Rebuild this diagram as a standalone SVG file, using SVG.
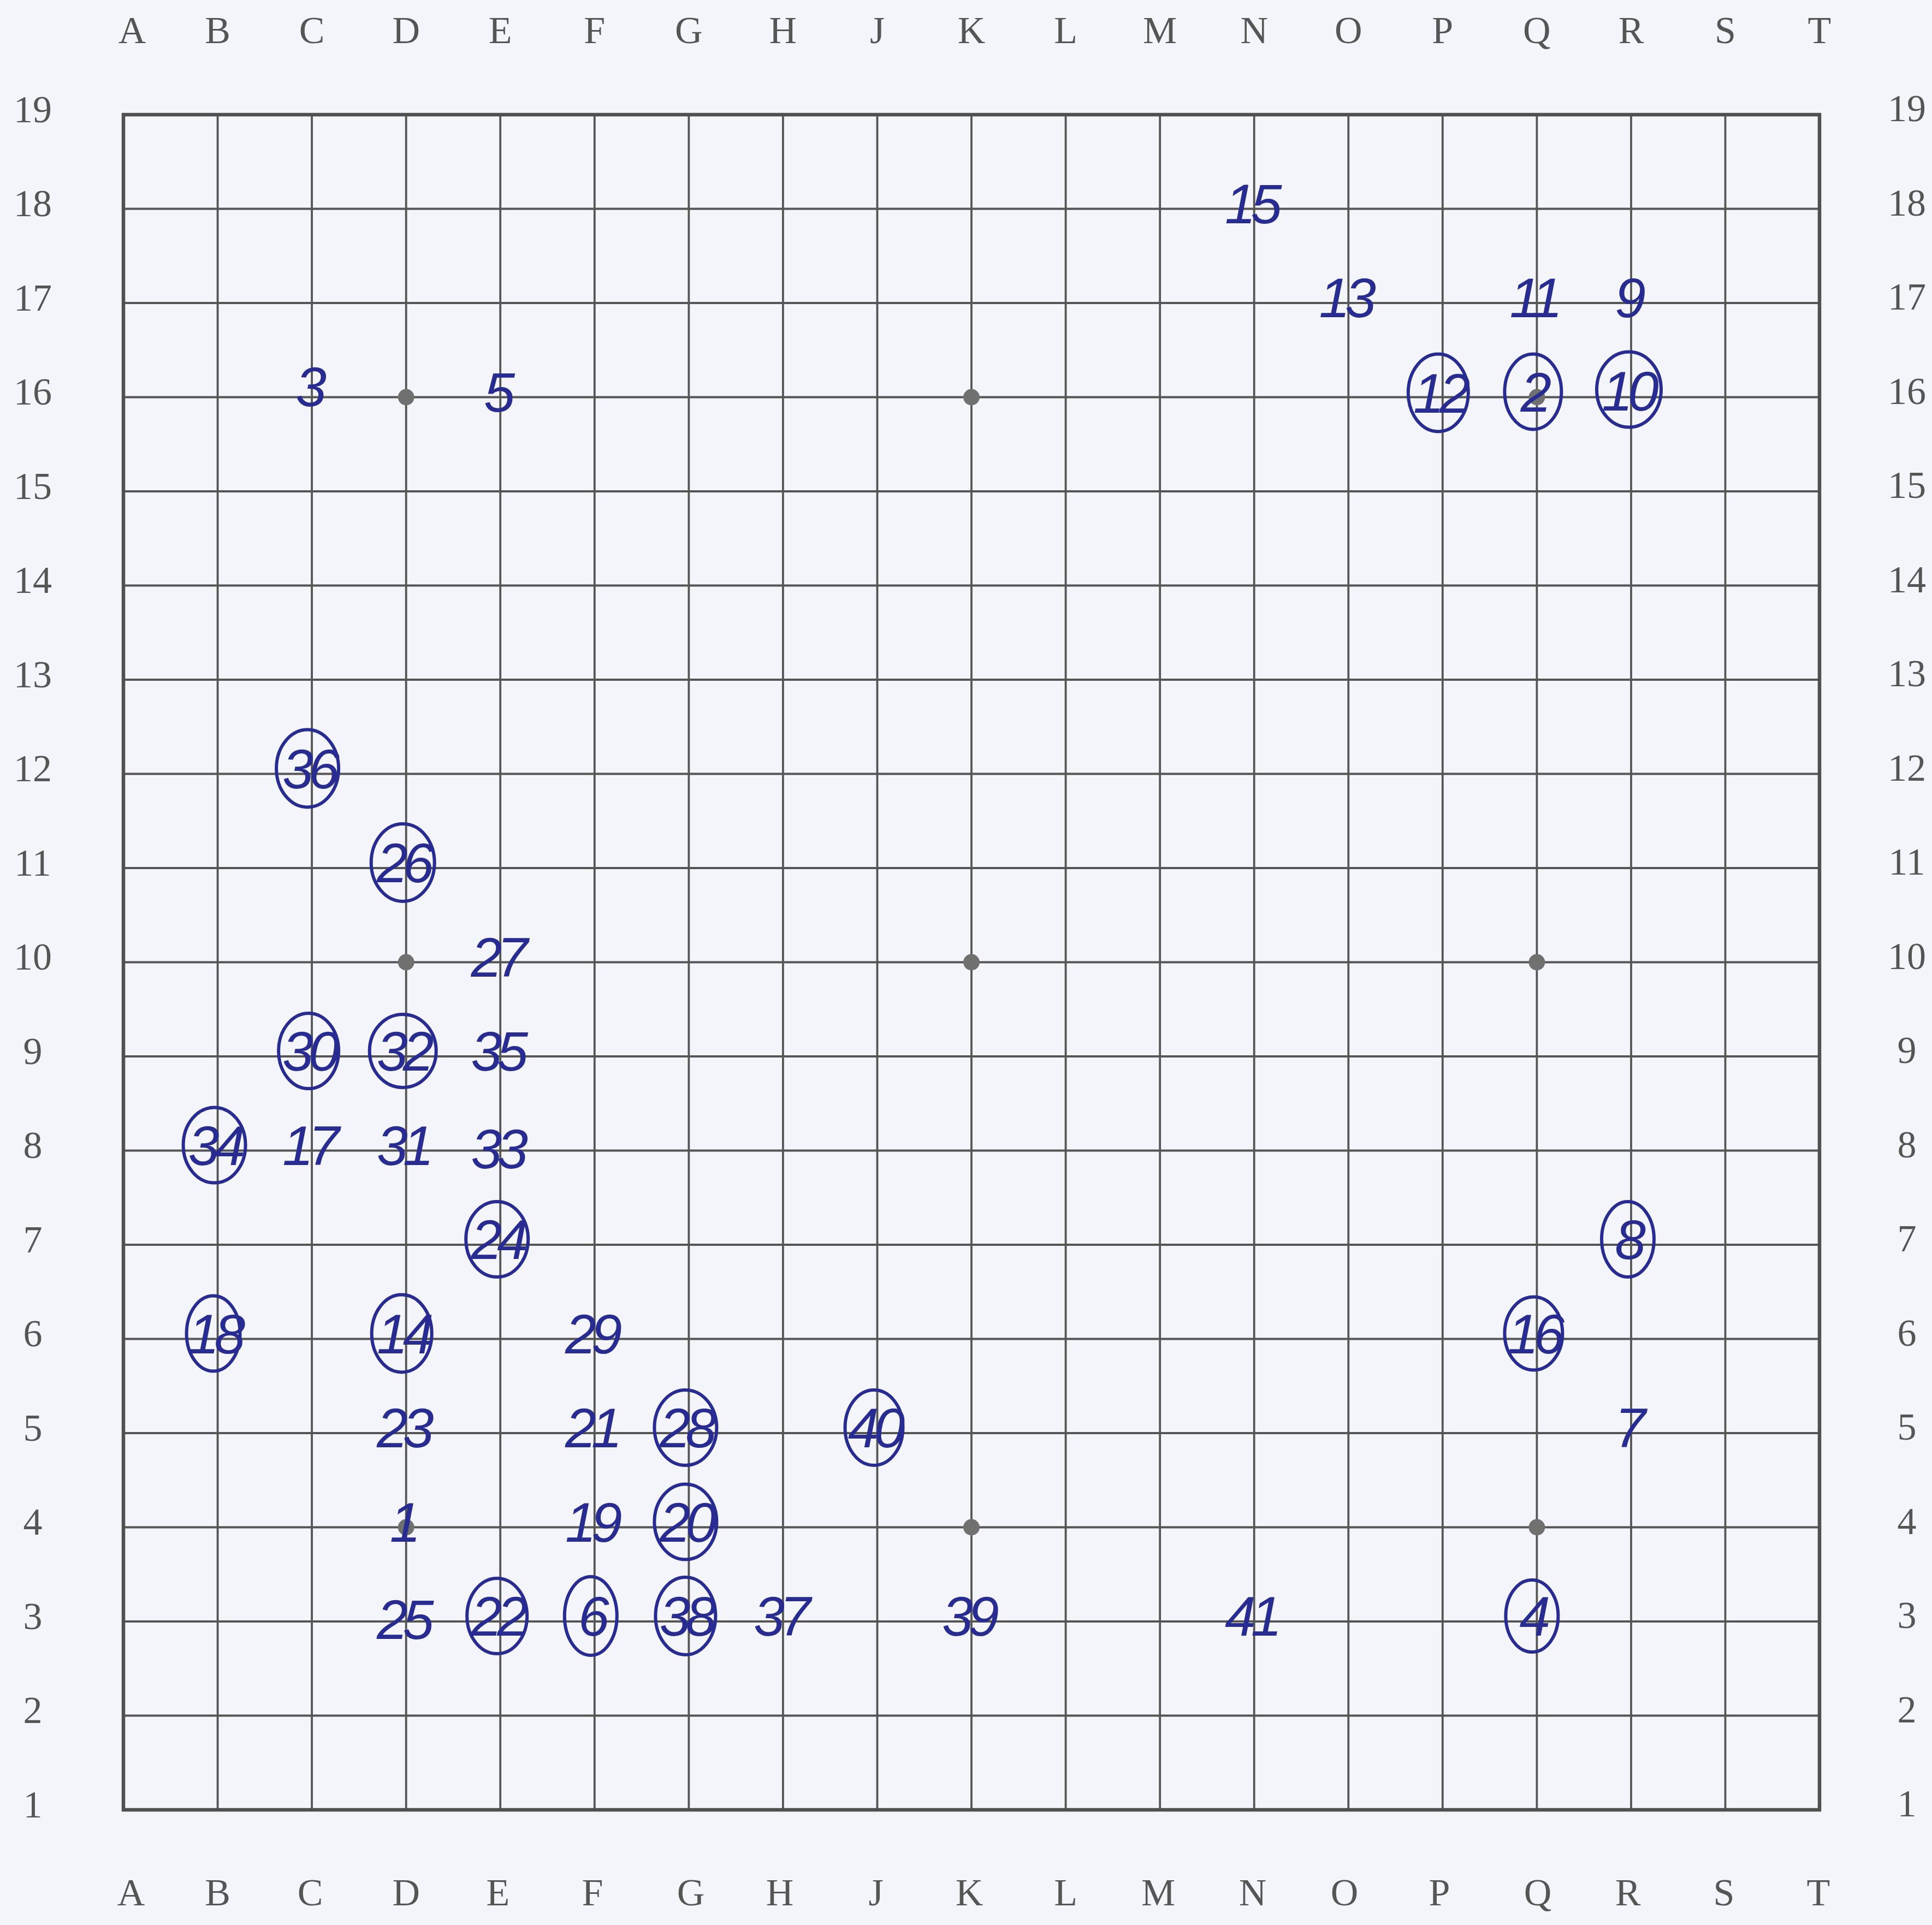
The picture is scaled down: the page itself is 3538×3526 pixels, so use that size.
<svg xmlns="http://www.w3.org/2000/svg" width="3538" height="3526" viewBox="0 0 3538 3526">
<defs>
<style>
.bg{fill:#f4f5fb}
.gl{stroke:#555;stroke-width:3.8;fill:none}
.bd{stroke:#505050;stroke-width:6.5;fill:none}
.star{fill:#707070}
.lbl{font-family:"Liberation Serif","Times New Roman",serif;font-size:70px;fill:#555;text-anchor:middle}
.mv{font-family:"Liberation Sans",Arial,sans-serif;font-style:italic;font-size:102px;fill:#282c90;text-anchor:middle;letter-spacing:-9px}
.ring{fill:none;stroke:#282c90;stroke-width:6}
</style>
</defs>
<rect class="bg" x="0" y="0" width="3538" height="3526"/>
<g id="board">
<g id="grid-lines">
<path class="gl" d="M398.6 210V3315M571.1 210V3315M743.7 210V3315M916.2 210V3315M1088.8 210V3315M1261.4 210V3315M1433.9 210V3315M1606.5 210V3315M1779 210V3315M1951.6 210V3315M2124.2 210V3315M2296.7 210V3315M2469.3 210V3315M2641.8 210V3315M2814.4 210V3315M2987 210V3315M3159.5 210V3315"/>
<path class="gl" d="M226 382.5H3332M226 555H3332M226 727.5H3332M226 900H3332M226 1072.5H3332M226 1245H3332M226 1417.5H3332M226 1590H3332M226 1762.5H3332M226 1935H3332M226 2107.5H3332M226 2280H3332M226 2452.5H3332M226 2625H3332M226 2797.5H3332M226 2970H3332M226 3142.5H3332"/>
<rect class="bd" x="226" y="210" width="3106" height="3105"/>
</g>
<g id="star-points">
<circle class="star" cx="743.7" cy="727.5" r="15"/>
<circle class="star" cx="1779" cy="727.5" r="15"/>
<circle class="star" cx="2814.4" cy="727.5" r="15"/>
<circle class="star" cx="743.7" cy="1762.5" r="15"/>
<circle class="star" cx="1779" cy="1762.5" r="15"/>
<circle class="star" cx="2814.4" cy="1762.5" r="15"/>
<circle class="star" cx="743.7" cy="2797.5" r="15"/>
<circle class="star" cx="1779" cy="2797.5" r="15"/>
<circle class="star" cx="2814.4" cy="2797.5" r="15"/>
</g>
<g id="column-labels-top">
<text class="lbl" x="242" y="79">A</text>
<text class="lbl" x="398.6" y="79">B</text>
<text class="lbl" x="571.1" y="79">C</text>
<text class="lbl" x="743.7" y="79">D</text>
<text class="lbl" x="916.2" y="79">E</text>
<text class="lbl" x="1088.8" y="79">F</text>
<text class="lbl" x="1261.4" y="79">G</text>
<text class="lbl" x="1433.9" y="79">H</text>
<text class="lbl" x="1606.5" y="79">J</text>
<text class="lbl" x="1779" y="79">K</text>
<text class="lbl" x="1951.6" y="79">L</text>
<text class="lbl" x="2124.2" y="79">M</text>
<text class="lbl" x="2296.7" y="79">N</text>
<text class="lbl" x="2469.3" y="79">O</text>
<text class="lbl" x="2641.8" y="79">P</text>
<text class="lbl" x="2814.4" y="79">Q</text>
<text class="lbl" x="2987" y="79">R</text>
<text class="lbl" x="3159.5" y="79">S</text>
<text class="lbl" x="3332" y="79">T</text>
</g>
<g id="column-labels-bottom">
<text class="lbl" x="240" y="3490">A</text>
<text class="lbl" x="398.6" y="3490">B</text>
<text class="lbl" x="568" y="3490">C</text>
<text class="lbl" x="743.7" y="3490">D</text>
<text class="lbl" x="912" y="3490">E</text>
<text class="lbl" x="1085" y="3490">F</text>
<text class="lbl" x="1265" y="3490">G</text>
<text class="lbl" x="1428" y="3490">H</text>
<text class="lbl" x="1604" y="3490">J</text>
<text class="lbl" x="1775" y="3490">K</text>
<text class="lbl" x="1951.6" y="3490">L</text>
<text class="lbl" x="2121" y="3490">M</text>
<text class="lbl" x="2294" y="3490">N</text>
<text class="lbl" x="2462" y="3490">O</text>
<text class="lbl" x="2636" y="3490">P</text>
<text class="lbl" x="2816" y="3490">Q</text>
<text class="lbl" x="2981" y="3490">R</text>
<text class="lbl" x="3157" y="3490">S</text>
<text class="lbl" x="3330" y="3490">T</text>
</g>
<g id="row-labels-left">
<text class="lbl" x="60" y="224">19</text>
<text class="lbl" x="60" y="396">18</text>
<text class="lbl" x="60" y="569">17</text>
<text class="lbl" x="60" y="741">16</text>
<text class="lbl" x="60" y="914">15</text>
<text class="lbl" x="60" y="1086">14</text>
<text class="lbl" x="60" y="1259">13</text>
<text class="lbl" x="60" y="1431">12</text>
<text class="lbl" x="60" y="1604">11</text>
<text class="lbl" x="60" y="1776">10</text>
<text class="lbl" x="60" y="1949">9</text>
<text class="lbl" x="60" y="2121">8</text>
<text class="lbl" x="60" y="2294">7</text>
<text class="lbl" x="60" y="2466">6</text>
<text class="lbl" x="60" y="2639">5</text>
<text class="lbl" x="60" y="2811">4</text>
<text class="lbl" x="60" y="2984">3</text>
<text class="lbl" x="60" y="3156">2</text>
<text class="lbl" x="60" y="3329">1</text>
</g>
<g id="row-labels-right">
<text class="lbl" x="3492" y="222">19</text>
<text class="lbl" x="3492" y="395">18</text>
<text class="lbl" x="3492" y="567">17</text>
<text class="lbl" x="3492" y="740">16</text>
<text class="lbl" x="3492" y="912">15</text>
<text class="lbl" x="3492" y="1085">14</text>
<text class="lbl" x="3492" y="1257">13</text>
<text class="lbl" x="3492" y="1430">12</text>
<text class="lbl" x="3492" y="1602">11</text>
<text class="lbl" x="3492" y="1775">10</text>
<text class="lbl" x="3492" y="1947">9</text>
<text class="lbl" x="3492" y="2120">8</text>
<text class="lbl" x="3492" y="2292">7</text>
<text class="lbl" x="3492" y="2465">6</text>
<text class="lbl" x="3492" y="2637">5</text>
<text class="lbl" x="3492" y="2810">4</text>
<text class="lbl" x="3492" y="2982">3</text>
<text class="lbl" x="3492" y="3155">2</text>
<text class="lbl" x="3492" y="3327">1</text>
</g>
</g>
<g id="moves">
<g id="move-1" transform="translate(743.7,2797.5)"><text class="mv" x="-6" y="26">1</text></g>
<g id="move-2" transform="translate(2814.4,727.5)"><ellipse class="ring" cx="-7" cy="-10" rx="52" ry="69"/><text class="mv" x="-6" y="26">2</text></g>
<g id="move-3" transform="translate(571.1,727.5)"><text class="mv" x="-6" y="16">3</text></g>
<g id="move-4" transform="translate(2814.4,2970)"><ellipse class="ring" cx="-9" cy="-10" rx="48" ry="66"/><text class="mv" x="-8" y="26">4</text></g>
<g id="move-5" transform="translate(916.2,727.5)"><text class="mv" x="-6" y="26">5</text></g>
<g id="move-6" transform="translate(1088.8,2970)"><ellipse class="ring" cx="-7" cy="-10" rx="48" ry="72"/><text class="mv" x="-6" y="26">6</text></g>
<g id="move-7" transform="translate(2987,2625)"><text class="mv" x="-6" y="26">7</text></g>
<g id="move-8" transform="translate(2987,2280)"><ellipse class="ring" cx="-6" cy="-10" rx="48" ry="69"/><text class="mv" x="-6" y="26">8</text></g>
<g id="move-9" transform="translate(2987,555)"><text class="mv" x="-6" y="26">9</text></g>
<g id="move-10" transform="translate(2987,727.5)"><ellipse class="ring" cx="-4" cy="-14" rx="59" ry="69"/><text class="mv" x="-6" y="24">10</text></g>
<g id="move-11" transform="translate(2814.4,555)"><text class="mv" x="-6" y="26">11</text></g>
<g id="move-12" transform="translate(2641.8,727.5)"><ellipse class="ring" cx="-8" cy="-8" rx="55" ry="71"/><text class="mv" x="-6" y="28">12</text></g>
<g id="move-13" transform="translate(2469.3,555)"><text class="mv" x="-6" y="26">13</text></g>
<g id="move-14" transform="translate(743.7,2452.5)"><ellipse class="ring" cx="-8" cy="-10" rx="55" ry="71"/><text class="mv" x="-6" y="26">14</text></g>
<g id="move-15" transform="translate(2296.7,382.5)"><text class="mv" x="-6" y="26">15</text></g>
<g id="move-16" transform="translate(2814.4,2452.5)"><ellipse class="ring" cx="-6" cy="-10" rx="53" ry="67"/><text class="mv" x="-6" y="26">16</text></g>
<g id="move-17" transform="translate(571.1,2107.5)"><text class="mv" x="-6" y="26">17</text></g>
<g id="move-18" transform="translate(398.6,2452.5)"><ellipse class="ring" cx="-8" cy="-10" rx="49" ry="69"/><text class="mv" x="-6" y="26">18</text></g>
<g id="move-19" transform="translate(1088.8,2797.5)"><text class="mv" x="-6" y="26">19</text></g>
<g id="move-20" transform="translate(1261.4,2797.5)"><ellipse class="ring" cx="-6" cy="-10" rx="57" ry="69"/><text class="mv" x="-6" y="26">20</text></g>
<g id="move-21" transform="translate(1088.8,2625)"><text class="mv" x="-6" y="26">21</text></g>
<g id="move-22" transform="translate(916.2,2970)"><ellipse class="ring" cx="-6" cy="-10" rx="55" ry="69"/><text class="mv" x="-6" y="26">22</text></g>
<g id="move-23" transform="translate(743.7,2625)"><text class="mv" x="-6" y="26">23</text></g>
<g id="move-24" transform="translate(916.2,2280)"><ellipse class="ring" cx="-6" cy="-10" rx="57" ry="69"/><text class="mv" x="-6" y="26">24</text></g>
<g id="move-25" transform="translate(743.7,2970)"><text class="mv" x="-6" y="32">25</text></g>
<g id="move-26" transform="translate(743.7,1590)"><ellipse class="ring" cx="-6" cy="-10" rx="58" ry="71"/><text class="mv" x="-6" y="26">26</text></g>
<g id="move-27" transform="translate(916.2,1762.5)"><text class="mv" x="-6" y="26">27</text></g>
<g id="move-28" transform="translate(1261.4,2625)"><ellipse class="ring" cx="-6" cy="-10" rx="57" ry="69"/><text class="mv" x="-6" y="26">28</text></g>
<g id="move-29" transform="translate(1088.8,2452.5)"><text class="mv" x="-6" y="26">29</text></g>
<g id="move-30" transform="translate(571.1,1935)"><ellipse class="ring" cx="-6" cy="-10" rx="55" ry="69"/><text class="mv" x="-6" y="26">30</text></g>
<g id="move-31" transform="translate(743.7,2107.5)"><text class="mv" x="-6" y="26">31</text></g>
<g id="move-32" transform="translate(743.7,1935)"><ellipse class="ring" cx="-6" cy="-10" rx="61" ry="67"/><text class="mv" x="-6" y="26">32</text></g>
<g id="move-33" transform="translate(916.2,2107.5)"><text class="mv" x="-6" y="32">33</text></g>
<g id="move-34" transform="translate(398.6,2107.5)"><ellipse class="ring" cx="-6" cy="-10" rx="57" ry="69"/><text class="mv" x="-6" y="26">34</text></g>
<g id="move-35" transform="translate(916.2,1935)"><text class="mv" x="-6" y="26">35</text></g>
<g id="move-36" transform="translate(571.1,1417.5)"><ellipse class="ring" cx="-8" cy="-10" rx="57" ry="71"/><text class="mv" x="-6" y="26">36</text></g>
<g id="move-37" transform="translate(1433.9,2970)"><text class="mv" x="-6" y="26">37</text></g>
<g id="move-38" transform="translate(1261.4,2970)"><ellipse class="ring" cx="-6" cy="-10" rx="55" ry="71"/><text class="mv" x="-6" y="26">38</text></g>
<g id="move-39" transform="translate(1779,2970)"><text class="mv" x="-6" y="26">39</text></g>
<g id="move-40" transform="translate(1606.5,2625)"><ellipse class="ring" cx="-6" cy="-10" rx="53" ry="69"/><text class="mv" x="-6" y="26">40</text></g>
<g id="move-41" transform="translate(2296.7,2970)"><text class="mv" x="-6" y="26">41</text></g>
</g>
</svg>
